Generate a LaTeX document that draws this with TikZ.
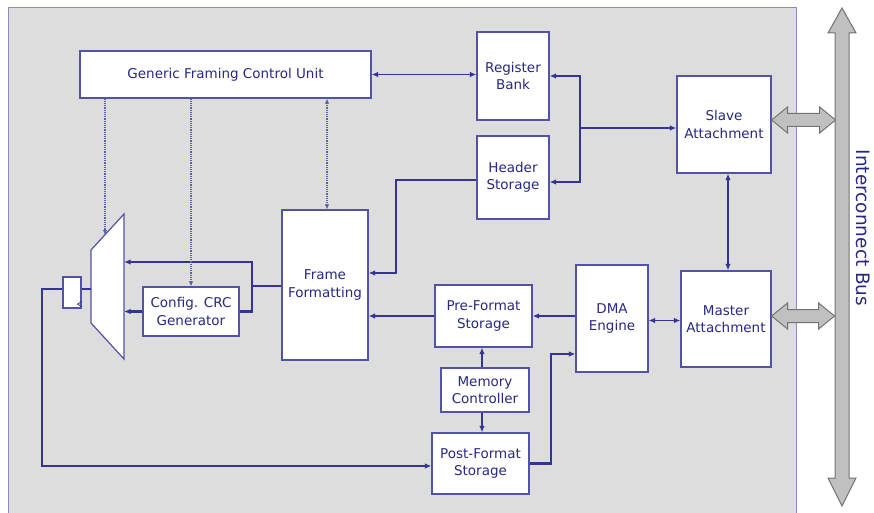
\documentclass[tikz,border=0pt]{standalone}
\usepackage{fontspec}
\setmainfont{DejaVu Sans}
\usetikzlibrary{arrows.meta}

\definecolor{boxblue}{RGB}{52,52,150}
\definecolor{txtblue}{RGB}{40,40,130}
\definecolor{dotblue}{RGB}{95,95,165}
\definecolor{panel}{RGB}{221,221,221}
\definecolor{panelline}{RGB}{140,140,195}
\definecolor{busgray}{RGB}{192,192,192}
\definecolor{busline}{RGB}{115,115,115}

\begin{document}
\begin{tikzpicture}[
	x=1pt, y=-1pt,
	>={Latex[length=6.5pt,width=5.5pt]},
	block/.style={
		rectangle,
		draw=boxblue!85,
		line width=1.2pt,
		fill=white,
		align=center,
		text=txtblue,
		font=\fontsize{13.5}{17.5}\selectfont,
		inner sep=0pt
	},
	data/.style={
		draw=boxblue,
		line width=2.4pt
	},
	ctrl/.style={
		draw=boxblue,
		line width=1.3pt
	},
	dots/.style={
		draw=dotblue,
		line width=1.2pt,
		densely dotted,
		>={Latex[length=5pt,width=4.5pt]}
	},
	bus/.style={
		draw=busline,
		line width=1pt,
		fill=busgray,
		line join=miter
	},
]

\useasboundingbox (0,0) rectangle (874,513);
\fill[panel] (8,8) rectangle (796,513);
\draw[panelline, line width=1pt] (8,513) |- (796,8) -- (796,513);

% control path
\node[block, minimum width=291, minimum height=47] (gfcu) at (225.5,74.5) {Generic Framing Control Unit};
\node[block, minimum width=72, minimum height=88] (regbank) at (513,76) {Register\\Bank};
\node[block, minimum width=72, minimum height=83] (hdr) at (513,177.5) {Header\\Storage};
\node[block, minimum width=94, minimum height=97] (slave) at (724,124.5) {Slave\\Attachment};
\node[block, minimum width=90, minimum height=96] (master) at (726,319) {Master\\Attachment};

% data path
\node[block, minimum width=86, minimum height=150] (frame) at (325,285) {Frame\\Formatting};
\node[block, minimum width=96, minimum height=49] (crc) at (191,311.5) {Config. CRC\\Generator};
\node[block, minimum width=72, minimum height=107] (dma) at (612,318.5) {DMA\\Engine};
\node[block, minimum width=97, minimum height=62] (pre) at (483.5,316) {Pre-Format\\Storage};
\node[block, minimum width=88, minimum height=44] (mem) at (485,390) {Memory\\Controller};
\node[block, minimum width=97, minimum height=61] (post) at (480.5,463.5) {Post-Format\\Storage};
\node[block, minimum width=18, minimum height=31] (reg) at (72,292.5) {};
\draw[boxblue, line width=0.8pt] ([yshift=7pt]reg.south east) -- ++(-4,2.5) -- ++(4,2.5);

% multiplexer
\draw[boxblue!85, line width=1.2pt, fill=white] (91,250) -- (124,214) -- (124,359) -- (91,323) -- cycle;
\coordinate (muxsel) at (105,235);
\coordinate (muxin1) at (124,262);
\coordinate (muxin2) at (124,311.5);
\coordinate (muxout) at (91,289);

% interconnect bus
\draw[bus] (842,8) -- (856,33) -- (849,33) -- (849,478) -- (856,478) -- (842,506)
	-- (828,478) -- (835,478) -- (835,33) -- (828,33) -- cycle;
\node[rotate=-90, text=txtblue, font=\fontsize{18.5}{20}\selectfont] (buslabel) at (863,228) {Interconnect Bus};
\draw[bus] ([yshift=4.5pt]slave.east) -- ++(16,-13) -- ++(0,6.5) -- ++(32,0) -- ++(0,-6.5)
	-- ++(16,13) -- ++(-16,13) -- ++(0,-6.5) -- ++(-32,0) -- ++(0,6.5) -- cycle;
\draw[bus] ([yshift=3pt]master.east) -- ++(16,-13) -- ++(0,6.5) -- ++(31,0) -- ++(0,-6.5)
	-- ++(16,13) -- ++(-16,13) -- ++(0,-6.5) -- ++(-31,0) -- ++(0,6.5) -- cycle;

% register side
\coordinate (jr) at (580,128);
\draw[ctrl,<->] (gfcu.east) -- (gfcu.east -| regbank.west);
\draw[ctrl,->] (jr) -- (jr -| slave.west);
\draw[data,->] (jr) |- (regbank.east);
\draw[data,->] (jr) |- ([yshift=-4.5pt]hdr.east);
\draw[ctrl,<->] ([xshift=4pt]slave.south) -- ([xshift=4pt]slave.south |- master.north);

% header into frame formatting
\coordinate (hf) at (396,273);
\draw[data,->] ([yshift=-2.5pt]hdr.west) -| (hf) -- (hf -| frame.east);

% dma and storage
\draw[data,->] (pre.west) -- (pre.west -| frame.east);
\draw[data,->] ([yshift=2.5pt]dma.west) -- ([yshift=2.5pt]dma.west -| pre.east);
\draw[ctrl,<->] ([yshift=-2pt]dma.east) -- ([yshift=-2pt]dma.east -| master.west);
\draw[ctrl,->] ([xshift=-3pt]mem.north) -- ([xshift=-3pt]mem.north |- pre.south);
\draw[ctrl,->] ([xshift=-3pt]mem.south) -- ([xshift=-3pt]mem.south |- post.north);
\coordinate (pd) at (551,354);
\draw[data,->] (post.east) -| (pd) -- (pd -| dma.west);

% frame formatting to mux
\coordinate (fs) at (252,286);
\draw[data] (frame.west |- fs) -- (fs);
\draw[data,->] (fs) |- (muxin1);
\draw[data] (fs) |- (crc.east);
\draw[data,->] (crc.west) -- (muxin2);
\draw[data] (muxout) -- (muxout -| reg.east);
\coordinate (loop) at (42,466);
\draw[data,->] (reg.west |- muxout) -| (loop) -- (loop -| post.west);

% control lines
\draw[dots,->] (gfcu.south -| muxsel) -- (muxsel);
\draw[dots,->] (gfcu.south -| crc.north) -- (crc.north);
\draw[dots,<->] ([xshift=2pt]gfcu.south -| frame.north) -- ([xshift=2pt]frame.north);

\end{tikzpicture}
\end{document}
